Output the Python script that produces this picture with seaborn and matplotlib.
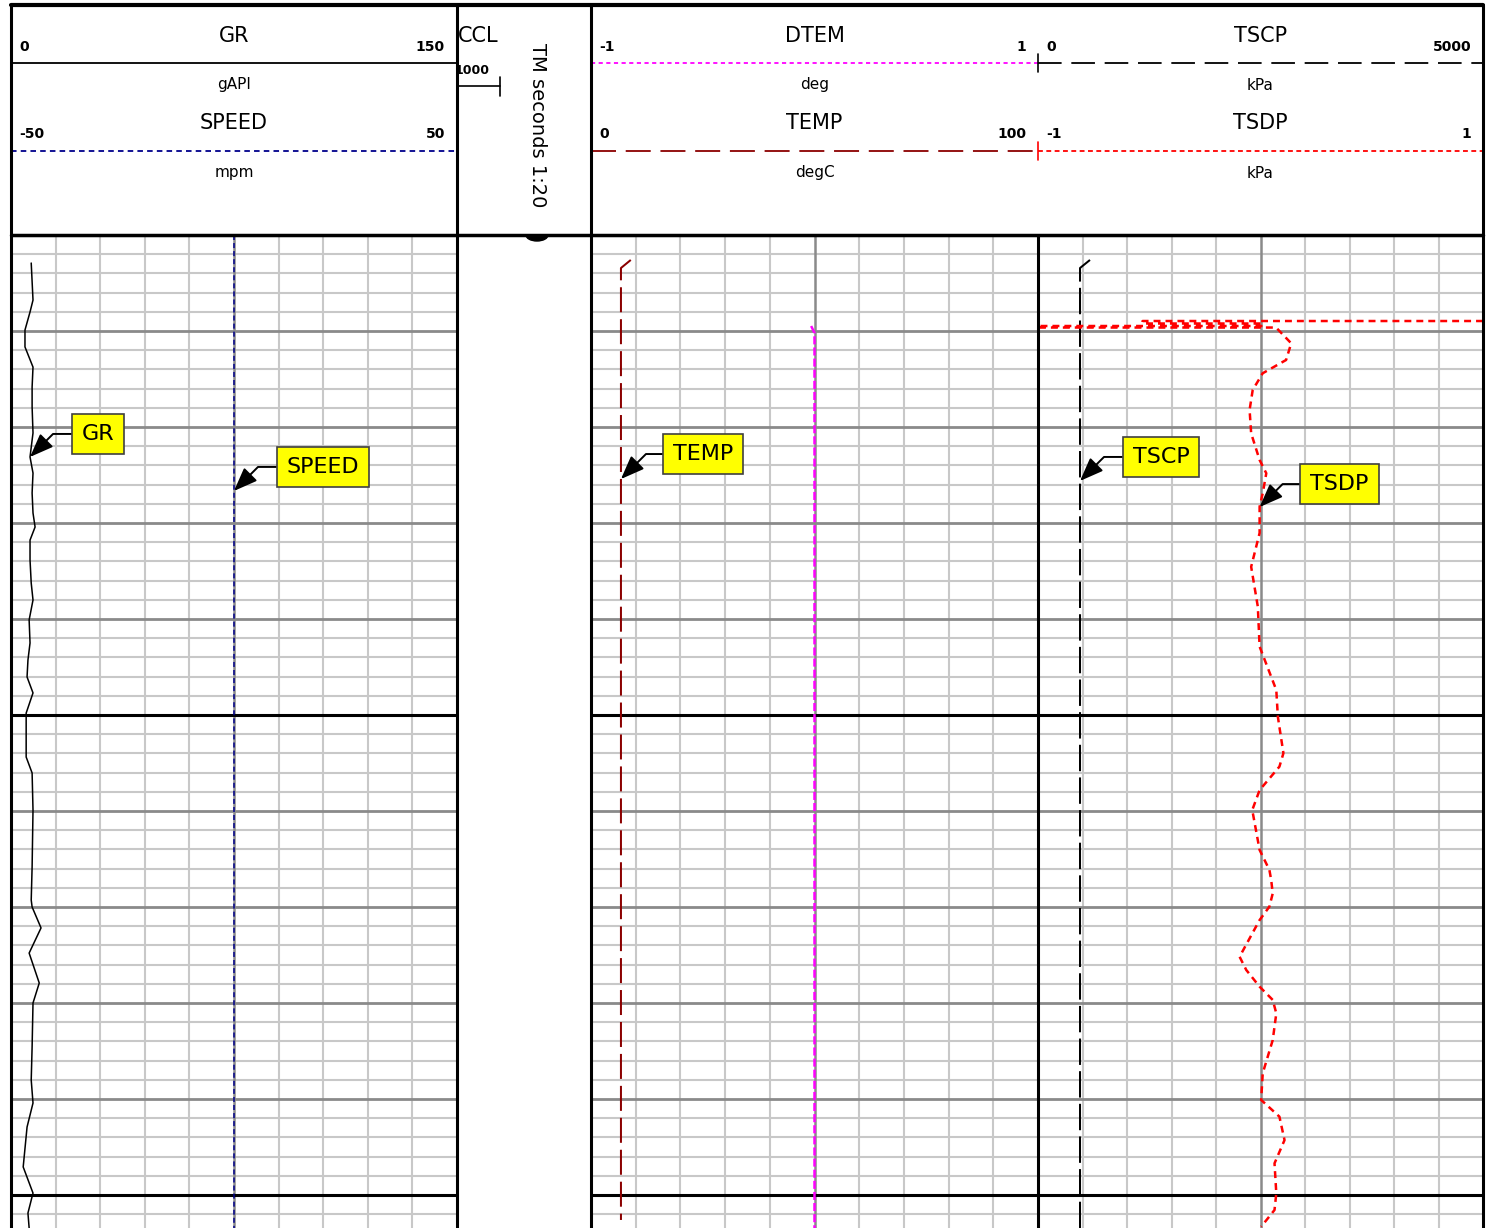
import matplotlib
matplotlib.use('Agg')
import matplotlib.pyplot as plt
import pandas as pd
import seaborn as sns
from matplotlib import font_manager
from matplotlib.patches import Ellipse, Rectangle

sns.set_style('white')
plt.rcParams['font.family'] = ['DejaVu Sans']
plt.rcParams['text.color'] = 'black'
plt.rcParams['lines.scale_dashes'] = False

# depth axis in chart rows (one row = one minor grid line, TM seconds 1:20)
gr_depth = [1.46, 3.39, 4.01, 4.95, 5.83, 6.88, 7.92, 8.96, 10.31, 11.56, 12.40, 13.44, 14.48, 15.21,
            15.89, 16.93, 18.13, 19.01, 20.05, 21.25, 22.14, 23.02, 23.85, 24.90, 27.19, 28.02, 29.95,
            32.92, 34.64, 35.0, 36.09, 37.40, 38.96, 40.0, 42.29, 44.01, 45.21, 46.46, 48.54, 49.90,
            50.94, 51.72]
gr_value = [6.8, 7.4, 6.4, 4.7, 4.7, 7.4, 7.1, 7.1, 7.4, 6.4, 7.4, 7.1, 7.4, 8.1,
            6.4, 6.4, 6.8, 7.4, 6.1, 6.4, 5.7, 5.4, 7.4, 5.1, 5.1, 7.1, 7.4,
            7.1, 6.8, 7.1, 10.1, 6.1, 9.5, 7.4, 7.1, 6.8, 7.4, 5.4, 4.1, 7.4,
            5.7, 6.1]

speed_depth = [0.0, 51.72]
speed_value = [0.0, 0.0]

temp_depth = [1.3, 1.72, 51.3]
temp_value = [8.9, 6.7, 6.7]

dtem_depth = [4.74, 5.1, 51.72]
dtem_value = [-0.015, 0.0, 0.0]

tscp_depth = [1.3, 1.72, 51.72]
tscp_value = [584, 472, 472]

tsdp_depth = [4.48, 4.48, 4.61, 4.61, 4.74, 4.74, 4.82, 4.82, 5.64, 6.51, 7.20, 8.07, 9.11, 10.33,
              11.72, 12.41, 13.45, 14.15, 15.52, 17.28, 19.36, 21.44, 23.70, 25.09, 26.99, 27.69,
              28.91, 29.95, 32.03, 33.07, 33.59, 34.29, 34.98, 35.68, 37.59, 38.28, 39.15, 39.84,
              40.54, 41.93, 43.66, 45.05, 45.92, 47.14, 48.35, 49.91, 50.78, 51.65]
tsdp_value = [1.0, -0.53, -0.53, 0.01, 0.01, -1.0, -1.0, 0.07, 0.138, 0.115, 0.010, -0.035, -0.049, -0.042,
              -0.004, 0.026, 0.010, -0.004, -0.004, -0.042, -0.012, -0.004, 0.071, 0.078, 0.103, 0.085,
              -0.004, -0.037, -0.004, 0.040, 0.048, 0.055, 0.040, -0.004, -0.094, -0.064, -0.004, 0.055,
              0.071, 0.055, 0.010, 0.003, 0.085, 0.108, 0.063, 0.071, 0.063, 0.003]

W, H = 1490, 1228
TOP = 235
DEPTH_MAX = (H - TOP) / 19.2

names = {f.name for f in font_manager.fontManager.ttflist}
narrow = 'Liberation Sans Narrow' if 'Liberation Sans Narrow' in names else 'DejaVu Sans'
num_size = 12 if narrow != 'DejaVu Sans' else 10

fig = plt.figure(figsize=(W / 100, H / 100), dpi=100)


def track_axes(x0, x1):
    ax = fig.add_axes([x0 / W, 0, (x1 - x0) / W, (H - TOP) / H])
    ax.set_ylim(DEPTH_MAX, 0)
    ax.axis('off')
    return ax


def draw_grid(ax, lo, hi):
    for d in range(0, int(DEPTH_MAX) + 1):
        if d % 25 == 0:
            ax.axhline(d, color='black', lw=2.2, zorder=1)
        elif d % 5 == 0:
            ax.axhline(d, color='#8a8a8a', lw=2.0, zorder=1)
        else:
            ax.axhline(d, color='#c8c8c8', lw=1.5, zorder=0.5)
    step = (hi - lo) / 10
    for k in range(1, 10):
        c = '#8a8a8a' if k == 5 else '#c8c8c8'
        ax.axvline(lo + k * step, color=c, lw=1.8 if k == 5 else 1.5, zorder=0.8)


def curve(ax, value, depth, **kw):
    df = pd.DataFrame({'value': value, 'depth': depth})
    sns.lineplot(data=df, x='value', y='depth', orient='y', sort=False, estimator=None,
                 ax=ax, zorder=3, **kw)
    ax.set_xlabel('')
    ax.set_ylabel('')


def label(ax, text, tip_value, tip_depth, dx, dy):
    ax.annotate(text, xy=(tip_value, tip_depth), xytext=(dx, dy), textcoords='offset pixels',
                ha='center', va='center', fontsize=16, color='black', zorder=6,
                bbox=dict(boxstyle='square,pad=0.45', fc='#ffff00', ec='#404040', lw=1.2),
                arrowprops=dict(arrowstyle='-|>,head_length=0.9,head_width=0.35', color='black',
                                lw=1.4, shrinkA=0, shrinkB=0,
                                connectionstyle='angle,angleA=0,angleB=45,rad=0'))


# track 1: GR / SPEED
t1 = track_axes(11, 457)
t1.set_xlim(0, 150)
draw_grid(t1, 0, 150)
curve(t1, gr_value, gr_depth, color='black', lw=1.1)
t1b = t1.twiny()
t1b.set_xlim(-50, 50)
t1b.set_ylim(DEPTH_MAX, 0)
t1b.axis('off')
curve(t1b, speed_value, speed_depth, color='#00008b', lw=1.1, linestyle=(0, (3.6, 2.2)))
label(t1, 'GR', 6.4, 11.56, 68, 23)
label(t1b, 'SPEED', 0.0, 13.33, 89, 24)

# depth track
td = track_axes(457, 591)

# track 2: DTEM / TEMP
t2 = track_axes(591, 1038)
t2.set_xlim(0, 100)
draw_grid(t2, 0, 100)
curve(t2, temp_value, temp_depth, color='#8b0000', lw=1.45, linestyle=(0, (18, 5)))
t2b = t2.twiny()
t2b.set_xlim(-1, 1)
t2b.set_ylim(DEPTH_MAX, 0)
t2b.axis('off')
curve(t2b, dtem_value, dtem_depth, color='#ff00ff', lw=1.8, linestyle=(0, (5.8, 2.2)))
label(t2, 'TEMP', 6.7, 12.71, 82, 25)

# track 3: TSCP / TSDP
t3 = track_axes(1038, 1483)
t3.set_xlim(0, 5000)
draw_grid(t3, 0, 5000)
curve(t3, tscp_value, tscp_depth, color='black', lw=1.45, linestyle=(0, (19, 4.5)))
t3b = t3.twiny()
t3b.set_xlim(-1, 1)
t3b.set_ylim(DEPTH_MAX, 0)
t3b.axis('off')
curve(t3b, tsdp_value, tsdp_depth, color='#ff0000', lw=1.8, linestyle=(0, (5, 3.6)))
label(t3, 'TSCP', 472, 12.81, 81, 24)
label(t3b, 'TSDP', -0.004, 14.17, 80, 23)

# overlay in pixel coordinates: header and frame
ov = fig.add_axes([0, 0, 1, 1])
ov.set_xlim(0, W)
ov.set_ylim(H, 0)
ov.axis('off')
ov.patch.set_alpha(0)
ov.set_zorder(10)

header = [
    (11, 457, [('GR', '0', '150', 'gAPI', 'black', '-'),
               ('SPEED', '-50', '50', 'mpm', '#00008b', (0, (4, 3)))]),
    (591, 1038, [('DTEM', '-1', '1', 'deg', '#ff00ff', (0, (3, 2.5))),
                 ('TEMP', '0', '100', 'degC', '#8b0000', (0, (18, 7)))]),
    (1038, 1483, [('TSCP', '0', '5000', 'kPa', 'black', (0, (17, 7))),
                  ('TSDP', '-1', '1', 'kPa', '#ff0000', (0, (3.5, 2.5)))]),
]
rows = [(36, 47, 63, 85), (123, 134, 151, 173)]
for x0, x1, entries in header:
    for (name, lo, hi, unit, color, ls), (ty, ny, ly, uy) in zip(entries, rows):
        xc = (x0 + x1) / 2
        ov.text(xc, ty, name, ha='center', va='center', fontsize=15)
        ov.text(x0 + 8, ny, lo, ha='left', va='center', fontsize=num_size,
                fontweight='bold', family=[narrow, 'DejaVu Sans'])
        ov.text(x1 - 12, ny, hi, ha='right', va='center', fontsize=num_size,
                fontweight='bold', family=[narrow, 'DejaVu Sans'])
        ov.plot([x0, x1], [ly, ly], color=color, lw=1.3, linestyle=ls)
        ov.plot([x0, x0], [ly - 9, ly + 9], color=color, lw=1.2)
        ov.text(xc, uy, unit, ha='center', va='center', fontsize=11)

# depth track header
ov.text(458, 36, 'CCL', ha='left', va='center', fontsize=15)
ov.text(455, 70, '1000', ha='left', va='center', fontsize=num_size - 1,
        fontweight='bold', family=[narrow, 'DejaVu Sans'])
ov.plot([457, 500], [86, 86], color='black', lw=1.2)
ov.plot([500, 500], [77, 96], color='black', lw=1.2)
ov.text(537, 125, 'TM seconds 1:20', rotation=270, ha='center', va='center', fontsize=14)
blob = Ellipse((537, 235), 22, 12, color='black')
ov.add_patch(blob)
blob.set_clip_path(Rectangle((0, 235), W, 50, transform=ov.transData))

# frame
ov.plot([11, 1483], [5, 5], color='black', lw=3)
ov.plot([11, 1483], [TOP, TOP], color='black', lw=2.5)
for x in (11, 457, 591, 1483):
    ov.plot([x, x], [5, H], color='black', lw=2.2)
ov.plot([1038, 1038], [TOP, H], color='black', lw=2.2)

fig.savefig('out.png', dpi=100)
